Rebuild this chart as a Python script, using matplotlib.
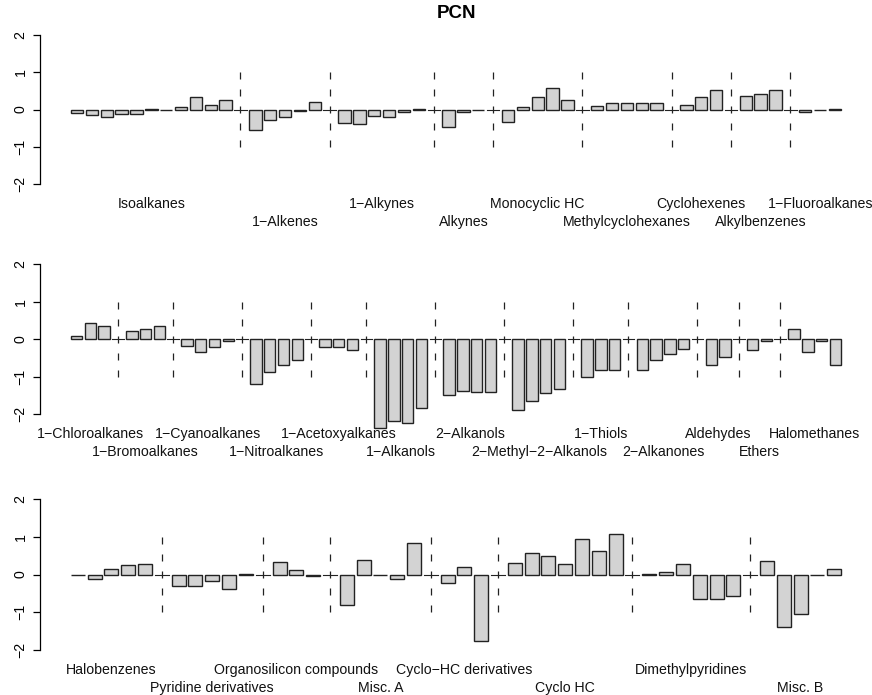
import numpy as np
import matplotlib.pyplot as plt

plt.rcParams['font.family'] = ['Liberation Sans', 'DejaVu Sans']

# Data: group names and per-group PCN values, one set per row
row1_groups = ["Isoalkanes", "1\u2212Alkenes", "1\u2212Alkynes", "Alkynes",
               "Monocyclic HC", "Methylcyclohexanes", "Cyclohexenes",
               "Alkylbenzenes", "1\u2212Fluoroalkanes"]
row1_values = [
    [-0.10, -0.15, -0.19, -0.11, -0.13, 0.02, -0.01, 0.06, 0.34, 0.12, 0.26],
    [-0.56, -0.29, -0.19, -0.05, 0.20],
    [-0.35, -0.39, -0.17, -0.19, -0.08, 0.02],
    [-0.47, -0.07, -0.02],
    [-0.34, 0.06, 0.34, 0.57, 0.26],
    [0.09, 0.17, 0.18, 0.18, 0.18],
    [0.11, 0.34, 0.51],
    [0.37, 0.41, 0.51],
    [-0.07, -0.02, 0.02],
]

row2_groups = ["1\u2212Chloroalkanes", "1\u2212Bromoalkanes", "1\u2212Cyanoalkanes",
               "1\u2212Nitroalkanes", "1\u2212Acetoxyalkanes", "1\u2212Alkanols",
               "2\u2212Alkanols", "2\u2212Methyl\u22122\u2212Alkanols", "1\u2212Thiols",
               "2\u2212Alkanones", "Aldehydes", "Ethers", "Halomethanes"]
row2_values = [
    [0.08, 0.42, 0.35],
    [0.22, 0.26, 0.35],
    [-0.19, -0.35, -0.22, -0.05],
    [-1.19, -0.87, -0.70, -0.56],
    [-0.21, -0.20, -0.29],
    [-2.37, -2.18, -2.23, -1.85],
    [-1.50, -1.38, -1.42, -1.40],
    [-1.88, -1.65, -1.43, -1.32],
    [-1.01, -0.82, -0.83],
    [-0.83, -0.55, -0.39, -0.27],
    [-0.68, -0.49],
    [-0.29, -0.06],
    [0.26, -0.35, -0.06, -0.68],
]

row3_groups = ["Halobenzenes", "Pyridine derivatives", "Organosilicon compounds",
               "Misc. A", "Cyclo\u2212HC derivatives", "Cyclo HC",
               "Dimethylpyridines", "Misc. B"]
row3_values = [
    [-0.02, -0.12, 0.14, 0.24, 0.28],
    [-0.30, -0.30, -0.18, -0.39, 0.02],
    [0.34, 0.11, -0.04],
    [-0.81, 0.38, -0.02, -0.12, 0.83],
    [-0.22, 0.19, -1.75],
    [0.30, 0.57, 0.48, 0.27, 0.94, 0.61, 1.07],
    [0.02, 0.07, 0.27, -0.64, -0.65, -0.58],
    [0.36, -1.40, -1.05, 0.00, 0.15],
]

rows = [(row1_groups, row1_values), (row2_groups, row2_values),
        (row3_groups, row3_values)]

W, H = 872, 695
fig = plt.figure(figsize=(W / 100, H / 100), dpi=100)

# panel (top, bottom) in pixels
panel_px = [(29, 190), (258, 420), (493, 656)]
left_px, right_px = 40, 872

fill = '#d3d3d3'
edge = '#222222'
fs = 10.2

for (groups, values), (top, bot) in zip(rows, panel_px):
    ax = fig.add_axes([left_px / W, 1 - bot / H,
                       (right_px - left_px) / W, (bot - top) / H])
    slot = 0
    for gi, (name, vals) in enumerate(zip(groups, values)):
        if gi > 0:
            # empty separator bar with dashed divider
            xs = 0.7 + 1.2 * slot
            ax.plot([xs - 0.5, xs + 0.5], [0, 0], color=edge, lw=0.8,
                    clip_on=False)
            ax.plot([xs, xs], [1, -1], color=edge, lw=0.9,
                    linestyle=(0, (5.6, 8.0)), clip_on=False)
            slot += 1
        pos = 0.7 + 1.2 * (slot + np.arange(len(vals)))
        bars = ax.bar(pos, vals, width=1.0, color=fill, edgecolor=edge,
                      linewidth=1.0)
        for b in bars:
            b.set_clip_on(False)
        slot += len(vals)
        cx = pos.mean()
        off = -10.2 if gi % 2 == 0 else -23.2
        ax.annotate(name, xy=(cx, 0), xycoords=('data', 'axes fraction'),
                    xytext=(0, off), textcoords='offset points',
                    ha='center', va='center', fontsize=fs, color='#111111')
    span = 1.2 * slot - 0.2
    ax.set_xlim(0.2 - 0.04 * span, 1.2 * slot + 0.04 * span)
    ax.set_ylim(-2.16, 2.16)
    for s in ['top', 'right', 'bottom']:
        ax.spines[s].set_visible(False)
    ax.spines['left'].set_bounds(-2, 2)
    ax.spines['left'].set_linewidth(0.9)
    ax.set_xticks([])
    ax.set_yticks([-2, -1, 0, 1, 2])
    ax.set_yticklabels(['\u22122', '\u22121', '0', '1', '2'], rotation=90,
                       va='center', fontsize=fs)
    ax.tick_params(axis='y', length=5, width=0.9, pad=4)
    ax.patch.set_visible(False)

fig.text(456 / W, 1 - 13 / H, 'PCN', ha='center', va='center',
         fontsize=13.5, fontweight='bold')

fig.savefig('out.png', dpi=100)
